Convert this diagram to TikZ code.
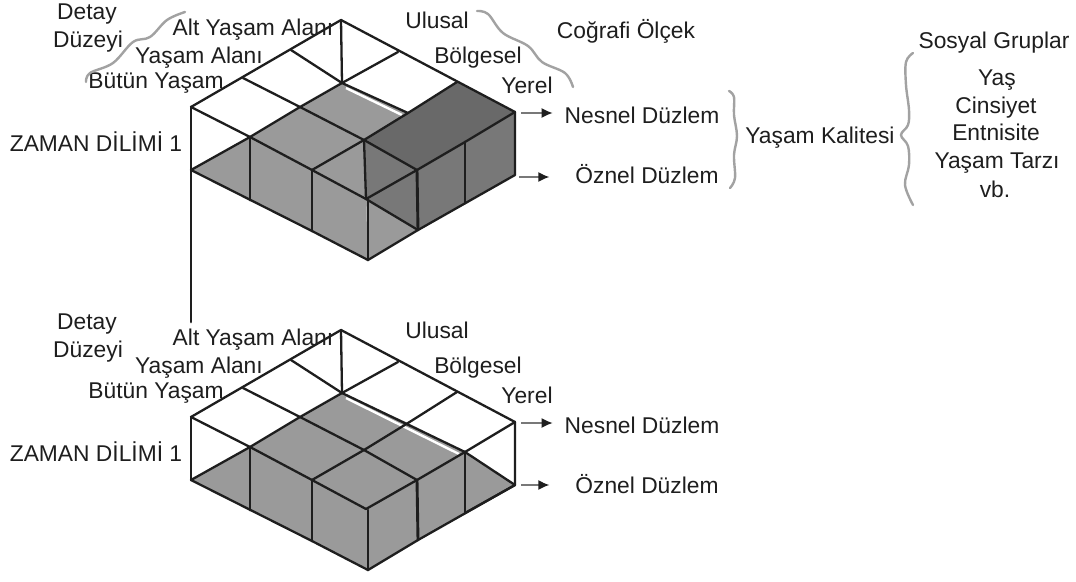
\documentclass[tikz,border=0pt]{standalone}
\usepackage{fontspec}
\setmainfont{Liberation Sans}
\usetikzlibrary{arrows.meta,calc}
\definecolor{ink}{HTML}{1E1E1E}
\definecolor{midgray}{HTML}{9A9A9A}
\definecolor{darktop}{HTML}{696969}
\definecolor{darkfront}{HTML}{787878}
\definecolor{bracegray}{HTML}{A2A2A2}
\tikzset{
  x=1pt,y=-1pt,
  lbl/.style={inner sep=0pt,outer sep=0pt,anchor=base,text=ink,font=\fontsize{22.8}{25}\selectfont},
  edgeline/.style={draw=ink,line width=2.3pt,line cap=round,line join=round},
  postline/.style={draw=ink,line width=2.9pt,line cap=round},
  bracecurve/.style={draw=bracegray,line width=2.4pt,line cap=round},
  arrowline/.style={draw=ink!60,line width=1.6pt,-{Latex[length=11pt,width=10pt,color=ink]}},
}
\newcommand{\gridpts}{%
  \coordinate (L) at (191,107); \coordinate (a1) at (243,78); \coordinate (a2) at (291,50); \coordinate (B) at (341,20);
  \coordinate (p1) at (250,137); \coordinate (q1) at (300,107); \coordinate (r1) at (342,83); \coordinate (b1) at (398,52);
  \coordinate (p2) at (312,170); \coordinate (q2) at (364,140); \coordinate (r2) at (408,113); \coordinate (b2) at (457,82);
  \coordinate (p3) at (366,199); \coordinate (p3v) at (368,200); \coordinate (q3) at (417,170); \coordinate (r3) at (465,142); \coordinate (R) at (515,112);
  \coordinate (LB) at (191,170); \coordinate (p1b) at (250,200); \coordinate (p2b) at (312,231); \coordinate (Fb) at (368,260);
  \coordinate (q3b) at (418,230); \coordinate (r3b) at (465,203); \coordinate (Rb) at (515,175);
}
\newcommand{\gridlines}{%
  \draw[edgeline] (L) -- (B) -- (R);
  \draw[edgeline] (L) -- (p1) -- (p2) -- (p3);
  \draw[edgeline] (a1) -- (q1) -- (q2) -- (q3);
  \draw[edgeline] (a2) -- (r1);
  \draw[edgeline] (p1) -- (q1) -- (r1) -- (b1);
  \draw[edgeline] (p2) -- (q2) -- (r2) -- (b2);
  \draw[edgeline] (p3) -- (q3) -- (r3) -- (R);
  \draw[edgeline] (LB) -- (p1);
  \draw[edgeline] (LB) -- (p2b) -- (Fb) -- (q3b) -- (Rb) -- (R);
  \draw[edgeline] (B) -- (r1);
  \draw[postline] (p1) -- (p1b);
  \draw[postline] (p2) -- (p2b);
  \draw[postline] (p3v) -- (Fb);
  \draw[postline] (q3) -- (q3b);
  \draw[postline] (r3) -- (r3b);
}
\begin{document}
\begin{tikzpicture}
\useasboundingbox (0,0) rectangle (1076,581);
\fill[white] (0,0) rectangle (1076,581);

% upper block
\begin{scope}
  \gridpts
  \fill[midgray] (LB) -- (p1) -- (p1b) -- cycle;
  \fill[midgray] (p1) -- (q1) -- (r1) -- (r2) -- (q2) -- (p3) -- (Fb) -- (p2b) -- (p1b) -- cycle;
  \fill[midgray] (p3) -- (Fb) -- (q3b) -- cycle;
  \fill[darktop] (q2) -- (r2) -- (b2) -- (R) -- (q3) -- cycle;
  \fill[darkfront] (q2) -- (q3) -- (q3b) -- (p3) -- cycle;
  \fill[darkfront] (q3) -- (R) -- (Rb) -- (q3b) -- cycle;
  \draw[white,line width=2.4pt] ($(r1)+(4,5)$) -- ($(r2)+(-6,2)$);
  \gridlines
  \draw[edgeline] (r1) -- (r2);
  \draw[edgeline] (q2) -- (p3);
  \draw[edgeline] (p3) -- (q3b);
  \draw[postline] (L) -- (191,322);
  \coordinate (tailA) at ($(R)+(6,1)$);
  \coordinate (tailB) at ($(Rb)+(4,2)$);

  \node[lbl] (detayA) at (87,19) {Detay};
  \node[lbl] (duzeyA) at (88,47) {Düzeyi};
  \node[lbl] (altA) at (253,35) {Alt Yaşam Alanı};
  \node[lbl] (yasamA) at (199,63) {Yaşam Alanı};
  \node[lbl] (butunA) at (156,88) {Bütün Yaşam};
  \node[lbl] (zamanA) at (96,151) {ZAMAN DİLİMİ 1};
  \node[lbl] (ulusalA) at (437,28) {Ulusal};
  \node[lbl] (bolgeA) at (478,63) {Bölgesel};
  \node[lbl] (yerelA) at (527,93) {Yerel};
  \node[lbl] (cog) at (626,38) {Coğrafi Ölçek};
  \node[lbl] (nesnelA) at (642,123) {Nesnel Düzlem};
  \node[lbl] (oznelA) at (647,183) {Öznel Düzlem};
  \draw[arrowline,shorten >=12pt] (tailA) -- (tailA -| nesnelA.west);
  \draw[arrowline,shorten >=26pt] (tailB) -- (tailB -| oznelA.west);
\end{scope}

% lower block
\begin{scope}[yshift=-310pt]
  \gridpts
  \fill[midgray] (LB) -- (p1) -- (p1b) -- cycle;
  \fill[midgray] (p1) -- (q1) -- (r1) -- (r2) -- (r3) -- (Rb) -- (q3b) -- (Fb) -- (p2b) -- (p1b) -- cycle;
  \draw[white,line width=2.4pt] ($(r1)+(4,5)$) -- ($(r3)+(-6,2)$);
  \gridlines
  \draw[edgeline] (r1) -- (r3);
  \draw[edgeline] (r3) -- (Rb);
  \draw[edgeline] (r3b) -- (Rb);
  \draw[edgeline] (L) -- (LB);
  \coordinate (tailC) at ($(R)+(6,1)$);
  \coordinate (tailD) at ($(Rb)+(6,0)$);

  \node[lbl] (detayB) at (87,19) {Detay};
  \node[lbl] (duzeyB) at (88,47) {Düzeyi};
  \node[lbl] (altB) at (253,35) {Alt Yaşam Alanı};
  \node[lbl] (yasamB) at (199,63) {Yaşam Alanı};
  \node[lbl] (butunB) at (156,88) {Bütün Yaşam};
  \node[lbl] (zamanB) at (96,151) {ZAMAN DİLİMİ 1};
  \node[lbl] (ulusalB) at (437,28) {Ulusal};
  \node[lbl] (bolgeB) at (478,63) {Bölgesel};
  \node[lbl] (yerelB) at (527,93) {Yerel};
  \node[lbl] (nesnelB) at (642,123) {Nesnel Düzlem};
  \node[lbl] (oznelB) at (647,183) {Öznel Düzlem};
  \draw[arrowline,shorten >=12pt] (tailC) -- (tailC -| nesnelB.west);
  \draw[arrowline,shorten >=26pt] (tailD) -- (tailD -| oznelB.west);
\end{scope}

% right-hand labels
\node[lbl] (kalite) at (820,143) {Yaşam Kalitesi};
\node[lbl] (sosyal) at (994,48) {Sosyal Gruplar};
\node[lbl] (yas) at (997,85) {Yaş};
\node[lbl] (cins) at (996,113) {Cinsiyet};
\node[lbl] (entn) at (996,140) {Entnisite};
\node[lbl] (tarz) at (997,168) {Yaşam Tarzı};
\node[lbl] (vb) at (995,197) {vb.};

% hand-drawn braces
\draw[bracecurve] plot[smooth,tension=0.6] coordinates {(185,12) (167,20) (150,37) (133,42) (113,63) (90,73) (86,82)};
\draw[bracecurve] plot[smooth,tension=0.6] coordinates {(477,11) (488,14) (503,33) (528,46) (542,62) (565,73) (573,87)};
\draw[bracecurve] plot[smooth,tension=0.6] coordinates {(729,91) (734,97) (734,115) (737,136) (734,155) (735,178) (730,188)};
\draw[bracecurve] plot[smooth,tension=0.6] coordinates {(913,53) (906,62) (906,85) (909,110) (908,125) (901,135) (908,146) (909,165) (905,185) (913,205)};
\end{tikzpicture}
\end{document}
